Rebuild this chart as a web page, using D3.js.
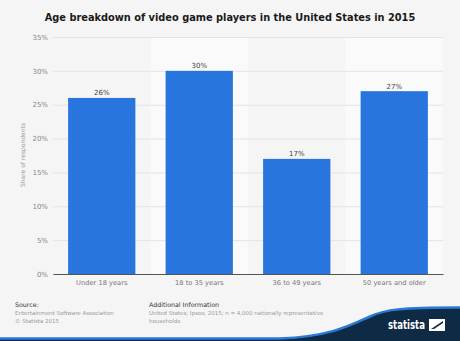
<!DOCTYPE html>
<html>
<head>
<meta charset="utf-8">
<script src="https://cdn.jsdelivr.net/npm/d3@7"></script>
<style>
  body { margin: 0; background: #f5f5f5; }
  svg { display: block; font-family: "DejaVu Sans", sans-serif; }
</style>
</head>
<body>
<script>
var WIDTH = 460, HEIGHT = 341;
var MARGIN = {top: 37, right: 17, bottom: 67, left: 53};
var INNER_WIDTH = WIDTH - MARGIN.left - MARGIN.right;
var INNER_HEIGHT = HEIGHT - MARGIN.top - MARGIN.bottom;

var categories = ["Under 18 years", "18 to 35 years", "36 to 49 years", "50 years and older"];
var shares = [26, 30, 17, 27];
var yTicks = [0, 5, 10, 15, 20, 25, 30, 35];

var _svg = d3.select("body").append("svg")
    .attr("width", WIDTH)
    .attr("height", HEIGHT);

_svg.append("rect").attr("width", WIDTH).attr("height", HEIGHT).attr("fill", "#f5f5f5");

_svg.append("text")
    .attr("x", 230).attr("y", 21)
    .attr("text-anchor", "middle")
    .attr("font-size", 9.8).attr("font-weight", "bold")
    .attr("fill", "#1a1a1a")
    .text("Age breakdown of video game players in the United States in 2015");

var _xScale = d3.scaleBand().domain(categories).range([0, INNER_WIDTH]).paddingInner(0.31).paddingOuter(0.155);
var _band = d3.scaleBand().domain(categories).range([0, INNER_WIDTH]);
var _yScale = d3.scaleLinear().domain([0, 35]).range([INNER_HEIGHT, 0]);

var g = _svg.append("g").attr("transform", "translate(" + MARGIN.left + "," + MARGIN.top + ")");

// alternating column bands
g.selectAll(".band").data(categories.filter(function(d, i){ return i % 2 == 1; }))
    .enter().append("rect")
    .attr("x", function(d){ return _band(d); })
    .attr("y", 0)
    .attr("width", _band.bandwidth())
    .attr("height", INNER_HEIGHT)
    .attr("fill", "#fafafa");

// gridlines + y labels
var yAxis = g.append("g")
    .call(d3.axisLeft(_yScale).tickValues(yTicks).tickSize(-INNER_WIDTH).tickFormat(function(d){ return d + "%"; }));
yAxis.select(".domain").remove();
yAxis.selectAll(".tick line").attr("stroke", "#e4e4e4").attr("stroke-width", 1);
yAxis.selectAll(".tick text").attr("x", -5).attr("fill", "#888").attr("font-size", 7)
    .attr("font-family", "DejaVu Sans, sans-serif");

g.selectAll(".bar").data(shares).enter().append("rect")
    .attr("x", function(d, i){ return _xScale(categories[i]); })
    .attr("y", function(d){ return _yScale(d); })
    .attr("width", _xScale.bandwidth())
    .attr("height", function(d){ return INNER_HEIGHT - _yScale(d); })
    .attr("fill", "#2876dd");

g.selectAll(".lbl").data(shares).enter().append("text")
    .attr("x", function(d, i){ return _xScale(categories[i]) + _xScale.bandwidth() / 2; })
    .attr("y", function(d){ return _yScale(d) - 2.5; })
    .attr("text-anchor", "middle")
    .attr("font-size", 7).attr("fill", "#444")
    .text(function(d){ return d + "%"; });

// x axis
var xAxis = g.append("g").attr("transform", "translate(0," + INNER_HEIGHT + ")")
    .call(d3.axisBottom(_band).tickSize(0).tickPadding(6));
xAxis.select(".domain").attr("stroke", "#555").attr("stroke-width", 1.2);
xAxis.selectAll(".tick text").attr("fill", "#777").attr("font-size", 6.7)
    .attr("font-family", "DejaVu Sans, sans-serif");

_svg.append("text")
    .attr("transform", "translate(25," + 155 + ") rotate(-90)")
    .attr("text-anchor", "middle")
    .attr("font-size", 6).attr("fill", "#999")
    .text("Share of respondents");

// footer notes
var foot = _svg.append("g").attr("font-size", 5.5);
foot.append("text").attr("x", 15).attr("y", 307).attr("fill", "#333").attr("font-size", 6.3).text("Source:");
foot.append("text").attr("x", 15).attr("y", 315).attr("fill", "#999").text("Entertainment Software Association");
foot.append("text").attr("x", 15).attr("y", 323).attr("fill", "#999").text("© Statista 2015");
foot.append("text").attr("x", 149).attr("y", 307).attr("fill", "#333").attr("font-size", 6.3).text("Additional Information");
foot.append("text").attr("x", 149).attr("y", 315).attr("fill", "#999").text("United States; Ipsos; 2015; n = 4,000 nationally representative");
foot.append("text").attr("x", 149).attr("y", 323).attr("fill", "#999").text("households");

// statista swoosh
_svg.append("path")
    .attr("d", "M 0 339 L 280 339 C 330 337, 350 326, 370 317 C 385 310, 400 308, 460 308 L 460 341 L 0 341 Z")
    .attr("fill", "#0f2a45");
_svg.append("path")
    .attr("d", "M 0 338.5 L 280 338.5 C 330 336.5, 350 325.5, 370 316.5 C 385 309.5, 400 307.5, 460 307.5")
    .attr("fill", "none").attr("stroke", "#2a79d6").attr("stroke-width", 2.5);
_svg.append("text")
    .attr("x", 388).attr("y", 329)
    .attr("textLength", 37).attr("lengthAdjust", "spacingAndGlyphs")
    .attr("font-size", 11.5).attr("font-weight", "bold").attr("fill", "#fff")
    .text("statista");
_svg.append("path")
    .attr("d", "M 429 319 L 445 319 L 445 331 L 429 331 Z M 431 329 L 443 321 L 443 323 L 434 329 Z")
    .attr("fill", "#fff").attr("fill-rule", "evenodd");
</script>
</body>
</html>
